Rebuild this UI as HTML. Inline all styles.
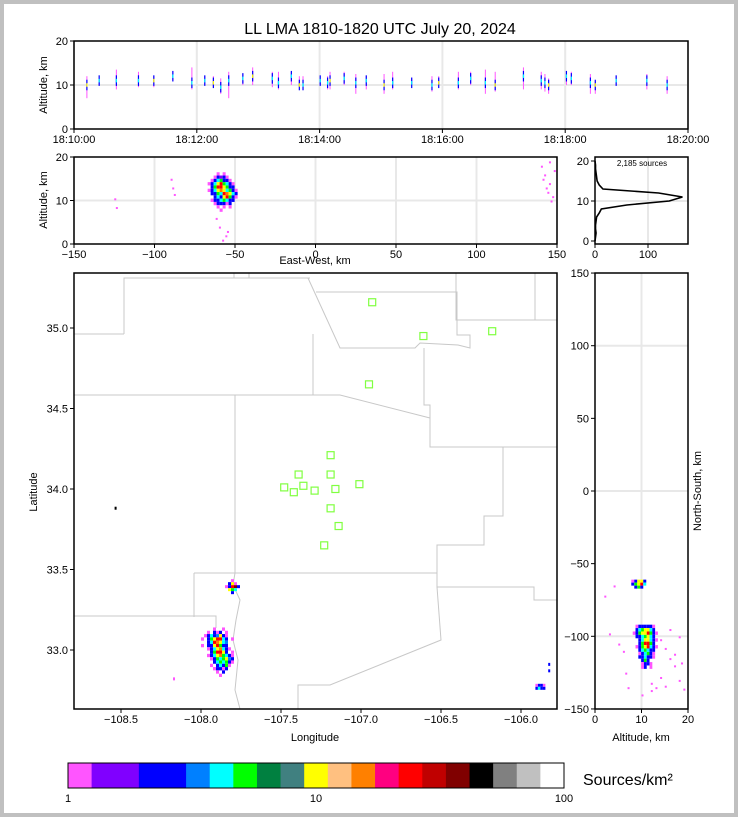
<!DOCTYPE html>
<html><head><meta charset="utf-8"><style>
body{margin:0;background:#c0c0c0;}
svg{display:block;font-family:"Liberation Sans",sans-serif;}
</style></head><body>
<svg id="s" width="738" height="817" xmlns="http://www.w3.org/2000/svg">
<rect x="4" y="4" width="730" height="809" fill="#fff"/>
<text x="380" y="34" font-size="16" text-anchor="middle">LL LMA 1810-1820 UTC July 20, 2024</text>
<g id="topPanel"></g>
<g id="mid"></g>
<g id="hist"></g>
<g id="mapPanel"></g>
<g id="rgt"></g>
<g id="cbar"></g>
</svg>
<script>
// ---- data ----
const flashTimes=[0.21,0.41,0.69,1.05,1.30,1.61,1.92,2.13,2.27,2.39,2.52,2.75,2.91,3.23,3.33,3.54,3.67,3.73,4.01,4.13,4.17,4.40,4.59,4.76,5.05,5.19,5.50,5.83,5.94,6.26,6.46,6.70,6.86,7.32,7.61,7.67,7.73,8.02,8.10,8.41,8.49,8.83,9.33,9.66];
const flashLo=[7,10,9,9.5,9.5,11,9,10,9.5,8,7,10,10,9.5,9,10,9.5,9.5,10,9,9,10,8,9,8,9,10,8.5,10,9,10,8,8.5,9,9,8.5,8,10,10,8,8,10,9,8];
const flashHi=[12,11.5,13.5,13,12,13,14,12,12,11.5,13,12.5,14,13,13,13,12,12,11.5,12,13,13,12.5,12,12.5,13,11.5,12,12,13,13,13.5,13,14,13,12.5,11.5,12,13,12.5,11,12,12.5,12];
const flashCore=[10,11,11,11,11,12,10.5,11,10.5,9.5,11,11.5,12,11.5,10.5,12,10,10,11,10.5,11,11.5,10.5,11,10,10.5,10.5,10,10.5,10.5,11.5,10.5,10,12,11,10.5,10,12,11.5,10.5,10,11,11,10];
const timeTicks=["18:10:00","18:12:00","18:14:00","18:16:00","18:18:00","18:20:00"];
const histAlt=[0,1,2,3,4,5,6,7,8,9,10,11,12,13,14,15,16,17,18,19,20];
const histCount=[0,1,2,1,1,2,3,8,12,60,140,165,120,15,8,4,3,2,1,1,0];
const stationLon=[-106.93,-106.61,-106.18,-106.95,-107.19,-107.39,-107.19,-107.48,-107.42,-107.36,-107.29,-107.16,-107.01,-107.19,-107.14,-107.23];
const stationLat=[35.16,34.95,34.98,34.65,34.21,34.09,34.09,34.01,33.98,34.02,33.99,34.00,34.03,33.88,33.77,33.65];
const colorScale=["#ff55ff","#8000ff","#8000ff","#0000ff","#0000ff","#0080ff","#00ffff","#00ff00","#008040","#408080","#ffff00","#ffc080","#ff8000","#ff0080","#ff0000","#c00000","#800000","#000000","#808080","#c0c0c0","#ffffff"];
const cbTicks=["1","10","100"];
const mapBlobMain={lon:-108.0,lat:33.14,rows:[
"....p..p.....","..p.bpb.p....",".pbcbaybp....","p.bgyrrcb.p..","..bcroyca....","p.bbyrgbb....","..pbcyocbp...","...bgrryb.p..","..pbcyogcbp..","...pbgcgyab..","....bcgcgbp..","...p.bcbgp...","....pbbpb....",".....p.b.....","......p......"]};
const mapBlobSmall={lon:-107.85,lat:33.44,rows:["..p..",".byp.","pbrmb",".ygc.","..b.."]};
const mapBlobEast={lon:-105.91,lat:32.79,rows:["pbbp","bcbb"]};
const mapDotLon=[-105.83,-105.83,-108.175,-108.54];
const mapDotLat=[32.92,32.88,32.83,33.89];
const midBlob={ew:-67,z:16.5,rows:[
"...p.p....","..pbubp...",".pbcgbbp..","pbcyrgcbp.",".bgrrygbb.","pbcyoycgbp",".bbgcroycb","..bcbyrgbp",".pbbcgcbb.","..pbbbpb..","...p.p.p..","....p....."]};
const rgtBlobTop={alt:7.8,ns:-61,rows:["pbyyb","bgyrc",".bgb."]};
const rgtBlobMain={alt:8.8,ns:-92,rows:[
"..pbbbbbp.","..bcgyycb.",".pbgyyrgbp","..bbcgycb.","...bcyycbp","...bgrrgb.","..pbgyrcbp","...bcgcbb.","...pbcgbp.","...bbcbbp.","....bgb...","....pbbp..","....pb.p.."]};
const rgtScatterAlt=[2,3,5,6,6.5,7,14,15,16,17,18,19,13,12,15,17,18.5,4,10,12,14,16,18];
const rgtScatterNS=[-72,-98,-105,-110,-125,-135,-102,-108,-115,-120,-130,-136,-135,-137,-134,-112,-118,-65,-140,-132,-128,-95,-100];
const midScatterEW=[-125,-124,-90,-89,-88,-56,-58,-55,-60,-62,140,142,145,144,146,148,141,143,147,145];
const midScatterZ=[10.5,8.5,15,13,11.5,2,1,3,4,6,18,16,14,12,10,17,15,13,11,19];
// ---- scales ----
const tx=m=>74+m*61.4, ty=z=>129-z*4.4;
const mx=e=>74+(e+150)*483/300, mz=z=>244-z*4.35;
const hx=c=>595+c*0.53, hz=z=>241-z*4.0;
const px=l=>201+(l+108)*160, py=l=>489-(l-34)*161;
const rx=z=>595+z*4.65, ry=n=>491-n*1.453;
const cmap={p:"#ff55ff",u:"#8000ff",b:"#0000ff",a:"#0080ff",c:"#00ffff",g:"#00ff00",y:"#ffff00",o:"#ff8000",r:"#ff0000",m:"#800000"};
const SVGNS="http://www.w3.org/2000/svg";
function el(parent,tag,attrs,txt){const e=document.createElementNS(SVGNS,tag);for(const k in attrs)e.setAttribute(k,attrs[k]);if(txt!==undefined)e.textContent=txt;parent.appendChild(e);return e;}
function label(parent,attrs,txt,name){const t=el(parent,'text',attrs,txt);


return t;}
function axFrame(g,x,y,w,h){const r=el(g,'rect',{x:x,y:y,width:w,height:h,fill:'none',stroke:'#000','stroke-width':1.5});

}
function gridLine(g,x1,y1,x2,y2){const l=el(g,'line',{x1:x1,y1:y1,x2:x2,y2:y2,stroke:'#e8e8e8','stroke-width':2});

}
function tickAt(g,x,y,lab,anchor,dx,dy,horiz){const t=el(g,'text',{x:x+dx,y:y+dy,'font-size':11,'text-anchor':anchor},lab);


const l=horiz?el(g,'line',{x1:x,y1:y,x2:x-4,y2:y,stroke:'#000'}):el(g,'line',{x1:x,y1:y,x2:x,y2:y+4,stroke:'#000'});

}
function drawBlob(g,rows,x0,y0,cw,ch){rows.forEach((r,i)=>{for(let j=0;j<r.length;j++){const c=r[j];if(c==='.')continue;
const e=el(g,'rect',{x:x0+j*cw,y:y0+i*ch,width:cw,height:ch,fill:cmap[c]});

}});}
// ---- top panel ----
const topG=document.getElementById('topPanel');
for(let m=0;m<=10;m+=2)gridLine(topG,tx(m),41,tx(m),129);
gridLine(topG,74,ty(10),688,ty(10));
flashTimes.forEach((t,i)=>{const x=tx(t);
const a=el(topG,'line',{x1:x,y1:ty(flashLo[i]),x2:x,y2:ty(flashHi[i]),stroke:'#ff55ff','stroke-width':1});


const b=el(topG,'line',{x1:x,y1:ty(flashCore[i]-1.2),x2:x,y2:ty(flashCore[i]+1.2),stroke:'#0000ff','stroke-width':1.2});


const c=el(topG,'line',{x1:x,y1:ty(flashCore[i]-0.4),x2:x,y2:ty(flashCore[i]+0.4),stroke:i%4?'#00ffff':'#ffff00','stroke-width':1.2});

});
axFrame(topG,74,41,614,88);
timeTicks.forEach((l,i)=>tickAt(topG,tx(i*2),129,l,'middle',0,14,false));
[0,10,20].forEach(z=>tickAt(topG,74,ty(z),String(z),'end',-6,4,true));
label(topG,{x:47,y:85,'font-size':11,'text-anchor':'middle',transform:'rotate(-90 47 85)'},'Altitude, km','y-axis-title');
// ---- middle panel ----
const mid=document.getElementById('mid');
for(let e=-150;e<=150;e+=50)gridLine(mid,mx(e),157,mx(e),244);
gridLine(mid,74,mz(10),557,mz(10));
midScatterEW.forEach((e,i)=>{const r=el(mid,'rect',{x:mx(e),y:mz(midScatterZ[i]),width:2,height:2,fill:'#ff55ff'});

});
drawBlob(mid,midBlob.rows,mx(midBlob.ew),mz(midBlob.z),3,3.3);
axFrame(mid,74,157,483,87);
[-150,-100,-50,0,50,100,150].forEach(e=>tickAt(mid,mx(e),244,String(e).replace('-','−'),'middle',0,14,false));
[0,10,20].forEach(z=>tickAt(mid,74,mz(z),String(z),'end',-6,4,true));
label(mid,{x:47,y:200,'font-size':11,'text-anchor':'middle',transform:'rotate(-90 47 200)'},'Altitude, km','y-axis-title');
label(mid,{x:315,y:264,'font-size':11,'text-anchor':'middle'},'East-West, km','x-axis-title');
// ---- histogram ----
const hist=document.getElementById('hist');
gridLine(hist,595,hz(10),688,hz(10));gridLine(hist,hx(100),157,hx(100),244);
let pathD='';histAlt.forEach((a,i)=>{pathD+=(i?'L':'M')+hx(histCount[i])+' '+hz(a);});
const hp=el(hist,'path',{d:pathD,fill:'none',stroke:'#000','stroke-width':1.6});


axFrame(hist,595,157,93,87);
label(hist,{x:642,y:166,'font-size':8,'text-anchor':'middle'},'2,185 sources','source-count-label');
[0,100].forEach(c=>tickAt(hist,hx(c),244,String(c),'middle',0,14,false));
[0,10,20].forEach(z=>tickAt(hist,595,hz(z),String(z),'end',-6,4,true));
// ---- map ----
const mapG=document.getElementById('mapPanel');
const countyLines=["124,334 124,278 310,278","74,334 124,334","308,278 340,348 415,348 420,343 458,345 470,348 470,335 457,335 457,292 316,292","456,273 456,320 557,320","535,273 535,320","313,334 313,395","74,395 340,395 430,418","235,395 235,573","424,348 424,405 430,405 430,447 557,447","503,447 503,516 484,516 484,545 437,545 437,587 534,587 534,600 557,600","194,573 437,573","194,573 194,617","74,616 216,616 216,628","235,573 233,585 240,600 236,620 233,640 238,660 235,690 240,709","437,587 441,640 330,685 298,685 298,709","249,273 249,278","234,273 234,278"];
countyLines.forEach(p=>{const l=el(mapG,'polyline',{points:p,fill:'none',stroke:'#c8c8c8','stroke-width':1});

});
drawBlob(mapG,mapBlobMain.rows,px(mapBlobMain.lon),py(mapBlobMain.lat),3,3.3);
drawBlob(mapG,mapBlobSmall.rows,px(mapBlobSmall.lon),py(mapBlobSmall.lat),3,3);
drawBlob(mapG,mapBlobEast.rows,px(mapBlobEast.lon),py(mapBlobEast.lat),2.5,3);
mapDotLon.forEach((l,i)=>{const r=el(mapG,'rect',{x:px(l),y:py(mapDotLat[i]),width:2,height:3,fill:l<-108.3?'#000':(i<2?'#0000ff':'#ff55ff')});

});
stationLon.forEach((l,i)=>{const r=el(mapG,'rect',{x:px(l)-3.5,y:py(stationLat[i])-3.5,width:7,height:7,fill:'none',stroke:'#80ff40','stroke-width':1.2});

});
axFrame(mapG,74,273,483,436);
[-108.5,-108.0,-107.5,-107.0,-106.5,-106.0].forEach(l=>tickAt(mapG,px(l),709,l.toFixed(1).replace('-','−'),'middle',0,14,false));
[35.0,34.5,34.0,33.5,33.0].forEach(l=>tickAt(mapG,74,py(l),l.toFixed(1),'end',-6,4,true));
label(mapG,{x:315,y:741,'font-size':11,'text-anchor':'middle'},'Longitude','x-axis-title');
label(mapG,{x:37,y:492,'font-size':11,'text-anchor':'middle',transform:'rotate(-90 37 492)'},'Latitude','y-axis-title');
// ---- right panel ----
const rgt=document.getElementById('rgt');
gridLine(rgt,rx(10),273,rx(10),709);[-100,0,100].forEach(n=>gridLine(rgt,595,ry(n),688,ry(n)));
rgtScatterAlt.forEach((a,i)=>{const r=el(rgt,'rect',{x:rx(a),y:ry(rgtScatterNS[i]),width:2,height:2,fill:'#ff55ff'});

});
drawBlob(rgt,rgtBlobTop.rows,rx(rgtBlobTop.alt),ry(rgtBlobTop.ns),3,3);
drawBlob(rgt,rgtBlobMain.rows,rx(rgtBlobMain.alt)-6,ry(rgtBlobMain.ns),2.8,3.4);
axFrame(rgt,595,273,93,436);
[0,10,20].forEach(z=>tickAt(rgt,rx(z),709,String(z),'middle',0,14,false));
[150,100,50,0,-50,-100,-150].forEach(n=>tickAt(rgt,595,ry(n),String(n).replace('-','−'),'end',-6,4,true));
label(rgt,{x:641,y:741,'font-size':11,'text-anchor':'middle'},'Altitude, km','x-axis-title');
label(rgt,{x:701,y:491,'font-size':11,'text-anchor':'middle',transform:'rotate(-90 701 491)'},'North-South, km','y-axis-title');
// ---- colorbar ----
const cb=document.getElementById('cbar');
const swW=496/colorScale.length;
colorScale.forEach((c,i)=>{const r=el(cb,'rect',{x:68+i*swW,y:763,width:swW+0.5,height:25,fill:c});

});
const cf=el(cb,'rect',{x:68,y:763,width:496,height:25,fill:'none',stroke:'#000'});


cbTicks.forEach((l,i)=>label(cb,{x:68+i*248,y:802,'font-size':11,'text-anchor':'middle'},l,'colorbar-tick-label'));
label(cb,{x:583,y:785,'font-size':16},'Sources/km²','colorbar-label');
</script>
</body></html>
